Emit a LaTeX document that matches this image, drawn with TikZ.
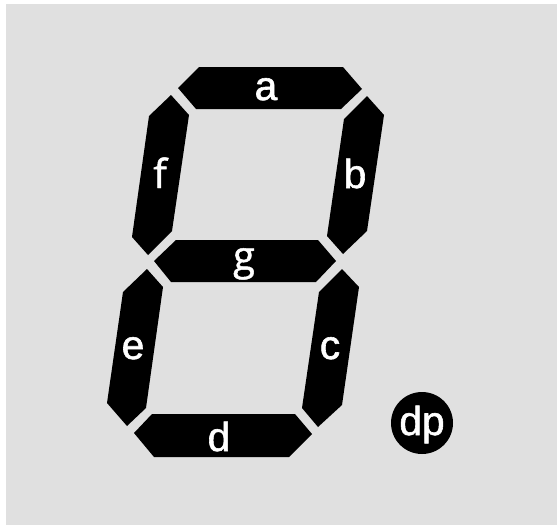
\documentclass[tikz,border=0pt]{standalone}
\usepackage{fontspec}
\newfontfamily\serfont[FakeBold=1.2]{Open Sans}
\newfontfamily\lblfont[FakeBold=1.4]{Liberation Sans}
\definecolor{bgc}{HTML}{E0E0E0}
\tikzset{x=0.75pt,y=-0.75pt,
 seg/.style={fill=black,draw=none},
 lbl/.style={text=white,font=\serfont\fontsize{30pt}{30pt}\selectfont,inner sep=0pt,anchor=base},
 lblb/.style={text=white,font=\lblfont\fontsize{30.5pt}{30.5pt}\selectfont,inner sep=0pt,anchor=base}}
\begin{document}
\begin{tikzpicture}
\useasboundingbox (0,0) rectangle (557,525);
\fill[white] (0,0) rectangle (557,525);
\fill[bgc] (6,4) rectangle (557,525);
\fill[seg] (178,88) -- (199,67) -- (343,67) -- (362,89) -- (341,109) -- (196,109) -- cycle;
\fill[seg] (171,95) -- (189,115) -- (172,231) -- (148,255) -- (132,237) -- (149,116) -- cycle;
\fill[seg] (367,96) -- (384,115) -- (367,231) -- (343,254) -- (327,236) -- (344,119) -- cycle;
\fill[seg] (154,261) -- (176,240) -- (318,240) -- (336,261) -- (316,282) -- (171,282) -- cycle;
\fill[seg] (147,269) -- (163,287) -- (146,408) -- (127,426) -- (107,403) -- (123,292) -- cycle;
\fill[seg] (342,269) -- (359,287) -- (342,405) -- (318,427) -- (302,408) -- (319,292) -- cycle;
\fill[seg] (134,433) -- (152,414) -- (295,414) -- (312,434) -- (289,457) -- (154,457) -- cycle;
\fill[seg] (422,423) circle (31);
\node[lblb] (la) at (266,100) {a};
\node[lbl] (lf) at (160,188) {f};
\node[lblb] (lb) at (355,188) {b};
\node[lbl] (lg) at (244,270) {g};
\node[lblb] (le) at (133,359) {e};
\node[lblb] (lc) at (330,359) {c};
\node[lblb] (ld) at (219,451) {d};
\node[lblb] (ldp) at (422,435) {dp};
\end{tikzpicture}
\end{document}
